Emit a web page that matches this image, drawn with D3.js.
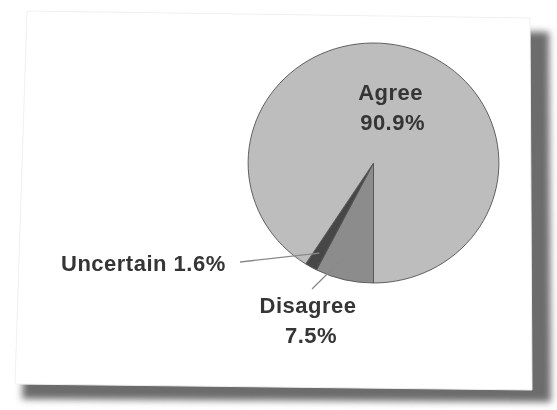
<!DOCTYPE html>
<html>
<head>
<meta charset="utf-8">
<script src="https://cdn.jsdelivr.net/npm/d3@7"></script>
<style>
  html, body { margin: 0; padding: 0; background: #ffffff; }
  svg { display: block; }
</style>
</head>
<body>
<svg id="chart" width="557" height="410"></svg>
<script>
// ---- data ----
const categories = ["Disagree", "Uncertain", "Agree"];
const values = [7.5, 1.6, 90.9];
const valueLabels = ["7.5%", "1.6%", "90.9%"];

// ---- layout ----
const svg = d3.select("#chart");
const defs = svg.append("defs");

const blur = defs.append("filter").attr("id", "shadowBlur")
  .attr("x", "-10%").attr("y", "-10%").attr("width", "120%").attr("height", "120%");
blur.append("feGaussianBlur").attr("stdDeviation", 3.5);

const soft = defs.append("filter").attr("id", "soft");
soft.append("feGaussianBlur").attr("stdDeviation", 0.45);

// paper shadow
const line = d3.line();
svg.append("path")
  .attr("d", line([[40, 28], [549, 32], [551, 402], [22, 399]]) + "Z")
  .attr("fill", "#6c6c6c")
  .attr("filter", "url(#shadowBlur)");
// paper
svg.append("path")
  .attr("d", line([[27, 11], [530, 18], [532, 390], [15, 384]]) + "Z")
  .attr("fill", "#ffffff")
  .attr("stroke", "#f0f0f0")
  .attr("stroke-width", 1);

const g = svg.append("g").attr("filter", "url(#soft)");

const cx = 373.5, cy = 163, r = 120, sx = 1.045;
const colors = d3.scaleOrdinal().domain(categories).range(["#8c8c8c", "#474747", "#bdbdbd"]);

const pie = d3.pie().sort(null).value(d => d)
  .startAngle(Math.PI).endAngle(3 * Math.PI);
const arcs = pie(values);
const arc = d3.arc().innerRadius(0).outerRadius(r);

const pieG = g.append("g").attr("transform", `translate(${cx},${cy}) scale(${sx},1)`);
pieG.selectAll("path.slice")
  .data(arcs)
  .join("path")
  .attr("class", "slice")
  .attr("d", arc)
  .attr("fill", (d, i) => colors(categories[i]))
  .attr("stroke", "#555555")
  .attr("stroke-width", 0.9)
  .attr("stroke-linejoin", "round");

const pos = (a, rad) => {
  const [x, y] = d3.arc().innerRadius(rad).outerRadius(rad).centroid(a);
  return [cx + x * sx, cy + y];
};

const fontStyle = sel => sel
  .attr("font-family", "'Liberation Sans', Arial, Helvetica, sans-serif")
  .attr("font-weight", "bold")
  .attr("font-size", 22)
  .attr("letter-spacing", 0.5)
  .attr("fill", "#353535");

// Agree label (inside)
const agreeP = pos(arcs[2], 58);
g.append("text").call(fontStyle)
  .attr("x", agreeP[0]).attr("y", 100).attr("text-anchor", "middle")
  .text(categories[2]);
g.append("text").call(fontStyle)
  .attr("x", agreeP[0] + 2).attr("y", 130).attr("text-anchor", "middle")
  .text(valueLabels[2]);

// Uncertain leader + label
const uP = pos(arcs[1], 104);
g.append("line")
  .attr("x1", uP[0]).attr("y1", uP[1])
  .attr("x2", 240).attr("y2", 262)
  .attr("stroke", "#8a8a8a").attr("stroke-width", 1.3);
g.append("text").call(fontStyle)
  .attr("x", 61).attr("y", 271).attr("text-anchor", "start")
  .text(`${categories[1]} ${valueLabels[1]}`);

// Disagree leader + label
const dP = pos(arcs[0], 100);
g.append("line")
  .attr("x1", dP[0] - 8).attr("y1", dP[1])
  .attr("x2", 312).attr("y2", 289)
  .attr("stroke", "#8a8a8a").attr("stroke-width", 1.3);
g.append("text").call(fontStyle)
  .attr("x", 308).attr("y", 313).attr("text-anchor", "middle")
  .text(categories[0]);
g.append("text").call(fontStyle)
  .attr("x", 311).attr("y", 343).attr("text-anchor", "middle")
  .text(valueLabels[0]);
</script>
</body>
</html>
